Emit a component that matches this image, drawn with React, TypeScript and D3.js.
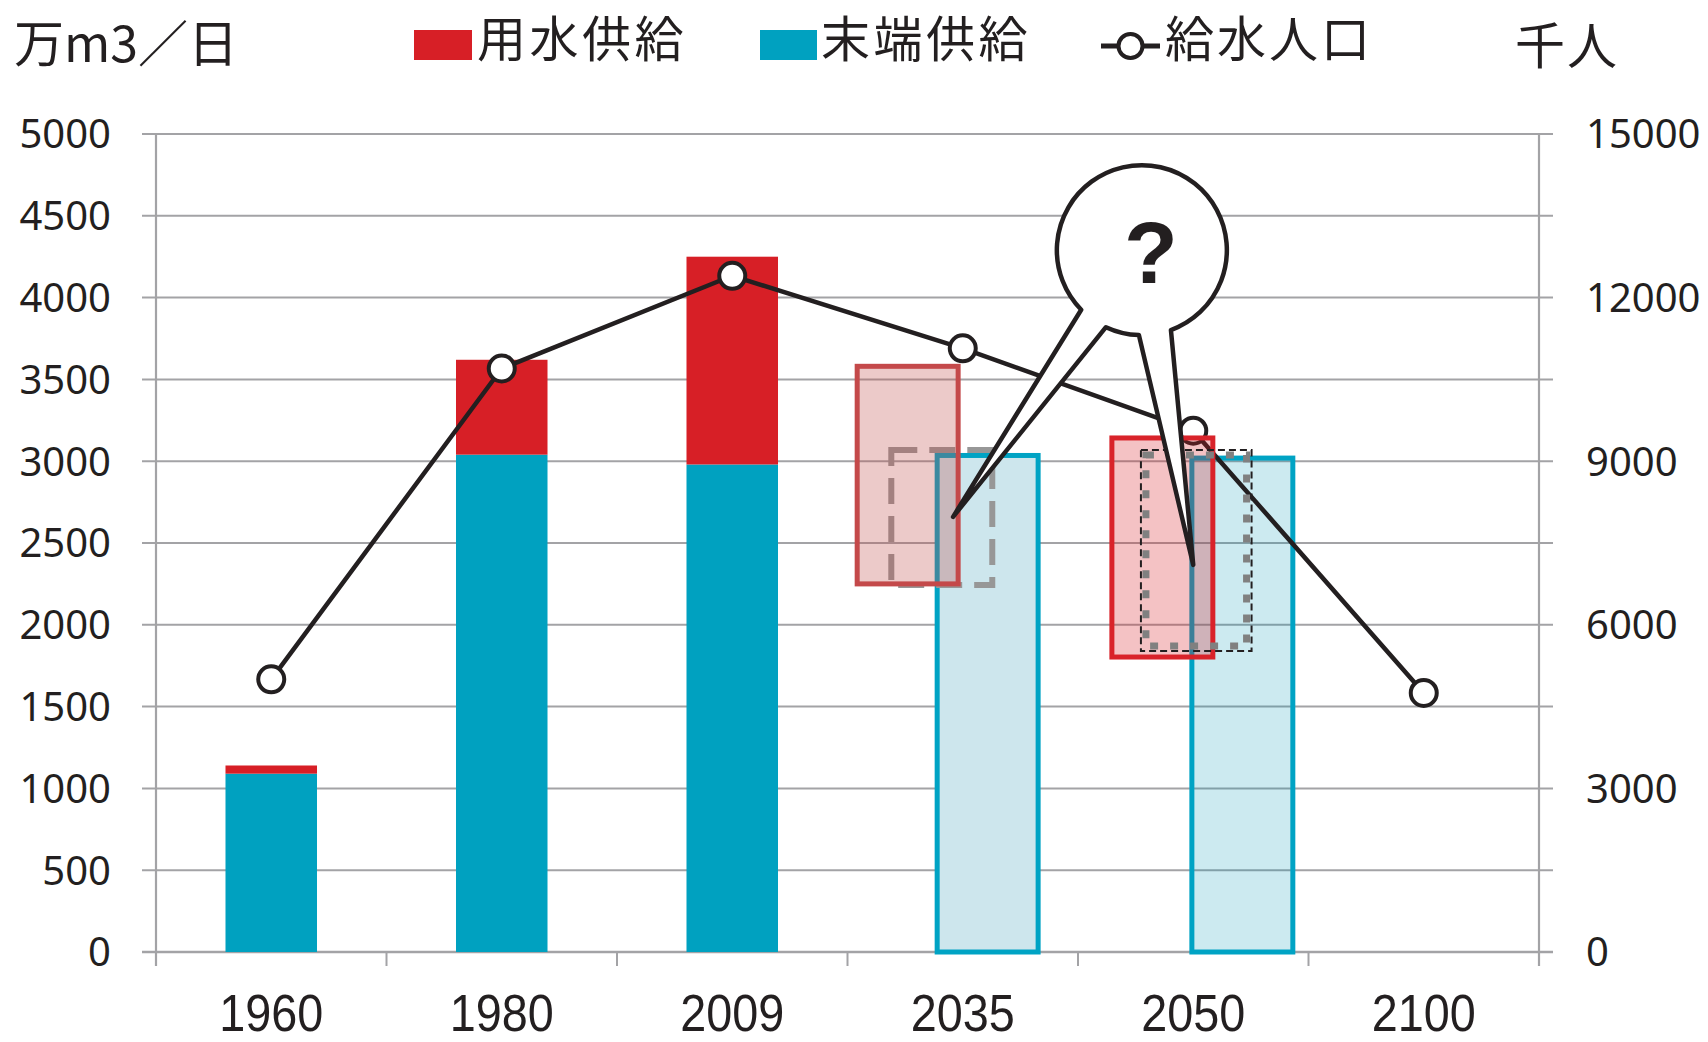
import React from "react";
import * as d3 from "d3";

// ---------- data ----------
const categories = ["1960", "1980", "2009", "2035", "2050", "2100"];
// 末端供給 (万m3/日) – actual bars
const endSupply = [1090, 3040, 2980];
// 用水供給 total height (万m3/日) – actual bars
const bulkSupplyTop = [1140, 3620, 4250];
// 給水人口 (千人)
const population = [5000, 10700, 12400, 11070, 9560, 4750];

// projections: [category, low, high]
const bulkProjection2035 = ["2035", 2250, 3580] as const;
const endProjection2035 = ["2035", 0, 3035] as const;
const dashedProjection2035 = ["2035", 2243, 3068] as const;
const bulkProjection2050 = ["2050", 1803, 3142] as const;
const endProjection2050 = ["2050", 0, 3019] as const;
const dashedProjection2050 = ["2050", 1840, 3068] as const;

const leftTicks = [0, 500, 1000, 1500, 2000, 2500, 3000, 3500, 4000, 4500, 5000];
const rightTicks = [0, 3000, 6000, 9000, 12000, 15000];

// ---------- layout ----------
const W = 1708;
const H = 1042;
const L = 156;
const R = 1539;
const T = 134;
const B = 952;

const INK = "#231f20";
const GRID = "#a3a3a6";
const RED = "#d71f26";
const TEAL = "#00a1c0";

const x = d3.scaleBand<string>().domain(categories).range([L, R]).padding(0);
const yL = d3.scaleLinear().domain([0, 5000]).range([B, T]);
const yR = d3.scaleLinear().domain([0, 15000]).range([B, T]);
const bw = x.bandwidth();
const cx = (c: string) => (x(c) as number) + bw / 2;

const barW = bw * 0.397;
const boxW = bw * 0.438;

function boxRect(p: readonly [string, number, number], offset: number, w = boxW) {
  const c = cx(p[0]) + offset * bw;
  return { x: c - w / 2, y: yL(p[2]), width: w, height: yL(p[1]) - yL(p[2]) };
}

const popLine = d3
  .line<number>()
  .x((_, i) => cx(categories[i]))
  .y((d) => yR(d));

// bubble annotation
const bubbleC = { x: cx("2050") - 0.223 * bw, y: yL(4290) };
const bubbleR = 85;
const tip1 = { x: cx("2035") - 0.042 * bw, y: yL(2660) };
const tip2 = { x: cx("2050") + 0.0 * bw, y: yL(2366) };
function onCircle(deg: number) {
  const a = (deg * Math.PI) / 180;
  return [bubbleC.x + bubbleR * Math.cos(a), bubbleC.y + bubbleR * Math.sin(a)];
}
const a1 = onCircle(135.5);
const a2 = onCircle(115);
const b1 = onCircle(92);
const b2 = onCircle(70);
const bubblePath =
  `M${a1[0]},${a1[1]} L${tip1.x},${tip1.y} L${a2[0]},${a2[1]} ` +
  `A${bubbleR},${bubbleR} 0 0 0 ${b1[0]},${b1[1]} L${tip2.x},${tip2.y} L${b2[0]},${b2[1]} ` +
  `A${bubbleR},${bubbleR} 0 1 0 ${a1[0]},${a1[1]} Z`;

const CJK = "'Noto Sans CJK JP', 'Noto Sans', sans-serif";
const NUM = "'Noto Sans', 'Open Sans', sans-serif";

export default function App() {
  const r35 = boxRect(bulkProjection2035, -0.239);
  const t35 = boxRect(endProjection2035, 0.108);
  const d35 = boxRect(dashedProjection2035, -0.091);
  const r50 = boxRect(bulkProjection2050, -0.134);
  const t50 = boxRect(endProjection2050, 0.213);
  const d50 = boxRect(dashedProjection2050, 0.013, bw * 0.48);

  return (
    <svg
      width={W}
      height={H}
      style={{ position: "absolute", left: 0, top: 0, background: "#fff" }}
    >
      {/* gridlines */}
      {leftTicks.map((t) => (
        <line key={"g" + t} x1={L - 14} x2={R + 14} y1={yL(t)} y2={yL(t)} stroke={GRID} strokeWidth={2} />
      ))}
      {/* axes */}
      <line x1={L} x2={L} y1={T} y2={B + 14} stroke={GRID} strokeWidth={2.2} />
      <line x1={R} x2={R} y1={T} y2={B + 14} stroke={GRID} strokeWidth={2.2} />
      <line x1={L - 14} x2={R + 14} y1={B} y2={B} stroke={GRID} strokeWidth={2.6} />
      {categories.map((c, i) => (
        <line key={"xt" + i} x1={x(c)} x2={x(c)} y1={B} y2={B + 14} stroke={GRID} strokeWidth={2} />
      ))}

      {/* tick labels */}
      {leftTicks.map((t) => (
        <text key={"lt" + t} x={111} y={yL(t)} dy="0.36em" textAnchor="end" fontFamily={NUM} fontSize={40} fill={INK}>
          {t}
        </text>
      ))}
      {rightTicks.map((t) => (
        <text key={"rt" + t} x={1586} y={yR(t)} dy="0.36em" textAnchor="start" fontFamily={NUM} fontSize={40} fill={INK}>
          {t}
        </text>
      ))}
      {categories.map((c) => (
        <text
          key={"xl" + c}
          x={cx(c)}
          y={1031}
          textAnchor="middle"
          fontFamily="'Liberation Sans', Arial, sans-serif"
          fontSize={51}
          textLength={104}
          lengthAdjust="spacingAndGlyphs"
          fill={INK}
        >
          {c}
        </text>
      ))}

      {/* actual bars */}
      {endSupply.map((v, i) => (
        <rect key={"e" + i} x={cx(categories[i]) - barW / 2} y={yL(v)} width={barW} height={yL(0) - yL(v)} fill={TEAL} />
      ))}
      {bulkSupplyTop.map((v, i) => (
        <rect
          key={"b" + i}
          x={cx(categories[i]) - barW / 2}
          y={yL(v)}
          width={barW}
          height={yL(endSupply[i]) - yL(v)}
          fill={RED}
        />
      ))}

      {/* 2035 projection */}
      <rect {...t35} fill="#cde6ed" stroke="#00a3c4" strokeWidth={5} />
      <rect {...d35} fill="none" stroke="#979797" strokeWidth={6} strokeDasharray="26 12" />
      <rect {...r35} fill="rgba(192,80,77,0.3)" stroke="#c4494a" strokeWidth={5} />

      {/* 2050 teal box */}
      <rect {...t50} fill="rgba(0,150,180,0.2)" stroke="#00a3c4" strokeWidth={5} />

      {/* population line */}
      <path d={popLine(population) as string} fill="none" stroke={INK} strokeWidth={4.5} strokeLinejoin="round" />
      {population.map((v, i) => (
        <circle key={"p" + i} cx={cx(categories[i])} cy={yR(v)} r={13} fill="#fff" stroke={INK} strokeWidth={4} />
      ))}

      {/* 2050 bulk + dashed boxes */}
      <rect {...r50} fill="rgba(215,31,38,0.27)" stroke="#d9232a" strokeWidth={5} />
      <rect
        x={d50.x + 5}
        y={d50.y + 5}
        width={d50.width - 10}
        height={d50.height - 10}
        fill="none"
        stroke="#808080"
        strokeWidth={7}
        strokeDasharray="8 12"
      />
      <rect {...d50} fill="none" stroke={INK} strokeWidth={2} strokeDasharray="7 4" />

      {/* bubble */}
      <path d={bubblePath} fill="#fff" stroke={INK} strokeWidth={4.5} strokeLinejoin="round" />
      <text
        x={bubbleC.x + 9}
        y={bubbleC.y + 33}
        textAnchor="middle"
        fontFamily="'Liberation Sans', Arial, sans-serif"
        fontWeight="bold"
        fontSize={88}
        fill={INK}
      >
        ?
      </text>

      {/* titles & legend */}
      <text x={14} y={62} fontFamily={CJK} fontSize={50} fill={INK}>
        万m3／日
      </text>
      <rect x={414} y={30} width={58} height={30} fill={RED} />
      <text x={477} y={57} fontFamily={CJK} fontSize={49} letterSpacing={3.5} fill={INK}>
        用水供給
      </text>
      <rect x={760} y={30} width={57} height={30} fill={TEAL} />
      <text x={821} y={57} fontFamily={CJK} fontSize={49} letterSpacing={3.5} fill={INK}>
        末端供給
      </text>
      <line x1={1101} x2={1160} y1={46} y2={46} stroke={INK} strokeWidth={5} />
      <circle cx={1130.5} cy={46} r={12} fill="#fff" stroke={INK} strokeWidth={4} />
      <text x={1165} y={57} fontFamily={CJK} fontSize={49} letterSpacing={3} fill={INK}>
        給水人口
      </text>
      <text x={1515} y={64} fontFamily={CJK} fontSize={50} letterSpacing={2} fill={INK}>
        千人
      </text>
    </svg>
  );
}
